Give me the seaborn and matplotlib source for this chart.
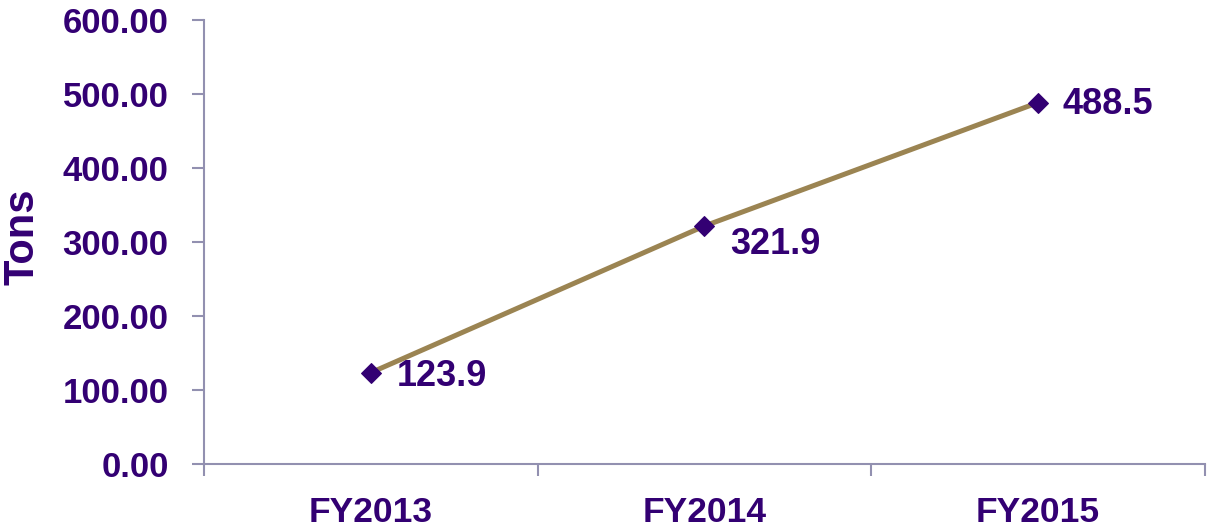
import matplotlib
matplotlib.use("Agg")
import matplotlib.pyplot as plt
import seaborn as sns
import pandas as pd
from matplotlib.ticker import FixedLocator, NullFormatter

categories = ["FY2013", "FY2014", "FY2015"]
tons = [123.9, 321.9, 488.5]
value_labels = ["123.9", "321.9", "488.5"]
y_ticks = [0, 100, 200, 300, 400, 500, 600]

df = pd.DataFrame({"year": categories, "tons": tons})

sns.set_theme(style="white")
plt.rcParams['font.family'] = ['Liberation Sans', 'DejaVu Sans']

text_color = "#330073"
axis_color = "#9290B0"
line_color = "#9B8452"

fig = plt.figure(figsize=(12.07, 5.29), dpi=100)
ax = fig.add_axes([0.169, 0.122, 0.829, 0.840])

sns.lineplot(data=df, x="year", y="tons", ax=ax, color=line_color, linewidth=3.6,
             marker="D", markersize=10, markerfacecolor=text_color,
             markeredgecolor=text_color, zorder=3)

ax.set_xlim(-0.5, len(categories) - 0.5)
ax.set_ylim(0, 600)
ax.set_yticks(y_ticks)
ax.set_yticklabels([f"{v:.2f}" for v in y_ticks])

ax.xaxis.set_major_locator(FixedLocator([i - 0.5 for i in range(len(categories) + 1)]))
ax.xaxis.set_major_formatter(NullFormatter())
ax.xaxis.set_minor_locator(FixedLocator(list(range(len(categories)))))
ax.set_xticklabels(categories, minor=True)

for s in ["top", "right"]:
    ax.spines[s].set_visible(False)
for s in ["left", "bottom"]:
    ax.spines[s].set_color(axis_color)
    ax.spines[s].set_linewidth(1.5)

ax.tick_params(axis="both", which="major", direction="out", length=8.5, width=1.5,
               color=axis_color, labelsize=25, labelcolor=text_color, pad=17)
ax.tick_params(axis="both", which="both", left=True, bottom=True)
ax.tick_params(axis="x", which="minor", length=0, labelsize=25.5, labelcolor=text_color, pad=23)
for lbl in ax.get_yticklabels() + ax.get_xticklabels(minor=True):
    lbl.set_fontweight("bold")

ax.set_xlabel("")
ax.set_ylabel("Tons", fontsize=30, fontweight="bold", color=text_color)
ax.yaxis.set_label_coords(-0.161, 0.513)

offsets = [(19, -3), (19, -13), (18, -1)]
for i, (v, lab) in enumerate(zip(tons, value_labels)):
    ax.annotate(lab, (i, v), xytext=offsets[i], textcoords="offset points",
                ha="left", va="center", fontsize=26, fontweight="bold", color=text_color)

ax.grid(False)
fig.savefig("out.png", dpi=100)
